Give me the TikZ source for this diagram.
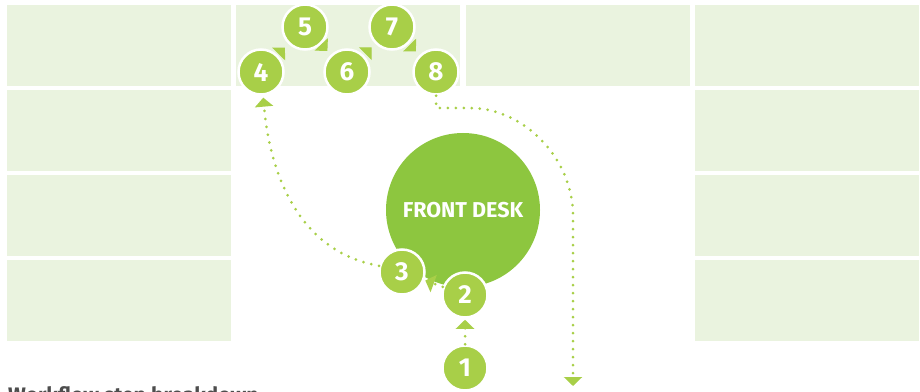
\documentclass[tikz,border=0pt]{standalone}
\usepackage{fontspec}
\setmainfont{Fira Sans}
\usetikzlibrary{arrows.meta}
\definecolor{bg}{HTML}{EAF3DF}
\definecolor{desk}{HTML}{8DC63F}
\definecolor{stepc}{HTML}{A8CF48}
\definecolor{txt}{HTML}{4D4D4D}
\begin{document}
\begin{tikzpicture}[x=1pt,y=1pt,
  cell/.style={fill=bg},
  num/.style={circle,fill=stepc,draw=white,line width=2.5pt,minimum size=45pt,inner sep=0pt,
    text=white,font=\fontsize{26}{26}\selectfont\bfseries},
  tipg/.style={-{Triangle[length=9pt,width=18pt]}},
  dots/.style={draw=stepc,line width=3pt,line cap=round,dash pattern=on 0pt off 8pt,tipg},
  tiponly/.style={draw=stepc,line width=1pt,line cap=butt,dash pattern=on 0pt off 300pt,tipg},
]
\useasboundingbox (0,0) rectangle (920,391);
\clip (0,0) rectangle (920,391);

% background grid
\fill[cell] (7,305) rectangle (231,386);
\fill[cell] (7,220) rectangle (231,301);
\fill[cell] (7,135) rectangle (231,216);
\fill[cell] (7,50) rectangle (231,131);
\fill[cell] (236,305) rectangle (460,386);
\fill[cell] (466,305) rectangle (690,386);
\fill[cell] (695,305) rectangle (919,386);
\fill[cell] (695,220) rectangle (919,301);
\fill[cell] (695,135) rectangle (919,216);
\fill[cell] (695,50) rectangle (919,131);

% front desk
\node[circle,fill=desk,minimum size=154pt,inner sep=0pt,text=white,
  font=\fontsize{21.5}{21.5}\selectfont\bfseries] (desk) at (463,181) {FRONT DESK};

% steps
\node[num] (n1) at (465,23) {1};
\node[num] (n2) at (465,96) {2};
\node[num] (n3) at (402,119) {3};
\node[num] (n4) at (261,319) {4};
\node[num] (n5) at (305,364) {5};
\node[num] (n6) at (347,319) {6};
\node[num] (n7) at (392,364) {7};
\node[num] (n8) at (436,319) {8};

% connectors
\draw[dots,shorten >=1pt] (n1) -- (n2);
\draw[dots,shorten >=1pt] (n2) -- (n3);
\draw[dots,shorten >=2pt] (n3.165) to[out=170,in=-85] (n4);
\draw[tiponly,shorten >=5pt] (n4) -- (n5);
\draw[tiponly,shorten >=5pt] (n5) -- (n6);
\draw[tiponly,shorten >=5pt] (n6) -- (n7);
\draw[tiponly,shorten >=5pt] (n7) -- (n8);

\coordinate (c8a) at (436,283);
\coordinate (c8b) at (470,283);
\coordinate (c8c) at (573,176);
\coordinate (exit) at (573,5);
\draw[dots] (n8) -- (c8a) -- (c8b) .. controls (525,283) and (573,231) .. (c8c) -- (exit);

% caption (cut off at bottom, as in the reference)
\node[anchor=base west,text=txt,inner sep=0pt,font=\fontsize{21}{21}\selectfont\bfseries]
  (title) at (8,-11) {Workflow step breakdown};
\end{tikzpicture}
\end{document}
